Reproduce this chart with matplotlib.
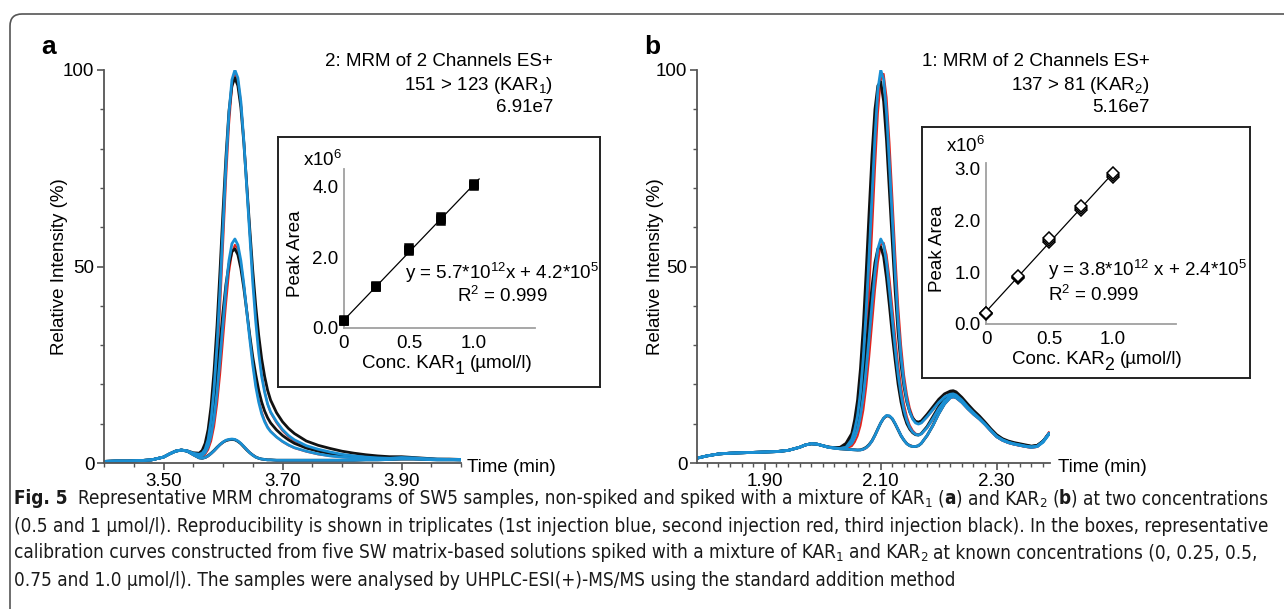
import os
import matplotlib
matplotlib.use("Agg")
import matplotlib.pyplot as plt
import numpy as np
from matplotlib import font_manager
from matplotlib.font_manager import FontProperties
from matplotlib.patches import FancyBboxPatch
from matplotlib.transforms import IdentityTransform
from matplotlib.ticker import MultipleLocator

# ---------------------------------------------------------------------------
# Data
# ---------------------------------------------------------------------------
# Panel a: KAR1 chromatograms (time in min, relative intensity in %)
ta = [3.40, 3.42, 3.44, 3.46, 3.48, 3.50,
      3.51, 3.52, 3.53, 3.54, 3.55, 3.56,
      3.565, 3.57, 3.575, 3.58, 3.585, 3.59, 3.595, 3.60, 3.605, 3.61, 3.615, 3.62,
      3.625, 3.63, 3.635, 3.64, 3.645, 3.65, 3.655, 3.66, 3.665, 3.67, 3.675, 3.68,
      3.69, 3.70, 3.71, 3.72,
      3.74, 3.76, 3.78, 3.80, 3.82, 3.84, 3.86, 3.88, 3.90, 3.92, 3.94, 3.96, 3.98, 4.00]

a0_blue = [0.4, 0.5, 0.5, 0.6, 0.8, 1.5,
           2.3, 3.0, 3.3, 3.0, 2.1, 1.3,
           1.2, 1.4, 1.8, 2.4, 3.1, 3.9, 4.7, 5.3, 5.8, 6.0, 6.1, 6.0,
           5.6, 5.0, 4.2, 3.4, 2.6, 2.0, 1.5, 1.2, 1.0, 0.9, 0.8, 0.8,
           0.7, 0.7, 0.7, 0.7,
           0.7, 0.7, 0.7, 0.7, 0.7, 0.8, 0.8, 0.9, 1.0, 1.0, 0.9, 0.8, 0.8, 0.8]
a0_red = [0.4, 0.5, 0.5, 0.6, 0.8, 1.5,
          2.3, 3.0, 3.3, 3.0, 2.1, 1.3,
          1.2, 1.3, 1.7, 2.3, 3.0, 3.8, 4.6, 5.2, 5.7, 5.9, 6.0, 5.9,
          5.6, 5.0, 4.3, 3.5, 2.7, 2.1, 1.6, 1.2, 1.0, 0.9, 0.8, 0.8,
          0.7, 0.7, 0.7, 0.7,
          0.7, 0.7, 0.7, 0.7, 0.7, 0.8, 0.8, 0.9, 1.0, 1.0, 0.9, 0.8, 0.8, 0.8]
a0_black = [0.4, 0.5, 0.5, 0.6, 0.8, 1.5,
            2.3, 3.0, 3.3, 3.0, 2.1, 1.3,
            1.2, 1.4, 1.9, 2.5, 3.2, 4.0, 4.7, 5.3, 5.7, 5.9, 6.0, 5.9,
            5.5, 4.9, 4.1, 3.3, 2.6, 2.0, 1.5, 1.2, 1.0, 0.9, 0.8, 0.8,
            0.7, 0.7, 0.7, 0.7,
            0.7, 0.7, 0.7, 0.7, 0.7, 0.8, 0.8, 0.9, 1.0, 1.0, 0.9, 0.8, 0.8, 0.8]

a5_blue = [0.4, 0.5, 0.5, 0.6, 0.8, 1.5,
           2.3, 3.0, 3.3, 3.0, 2.2, 1.7,
           1.9, 2.6, 4.2, 7.0, 11.5, 18, 26.5, 35.5, 44.5, 51.5, 55.8, 57,
           55.5, 51.5, 45.5, 38.5, 31.5, 25, 19.5, 15.5, 12.5, 10.5, 9.0, 8.0,
           6.6, 5.5, 4.6, 3.9,
           3.0, 2.3, 1.8, 1.5, 1.3, 1.1, 1.0, 1.0, 1.2, 1.1, 1.0, 0.9, 0.9, 0.8]
a5_red = [0.4, 0.5, 0.5, 0.6, 0.8, 1.5,
          2.3, 3.0, 3.3, 3.0, 2.2, 1.6,
          1.7, 2.2, 3.4, 5.6, 9.3, 15, 22.5, 31.5, 40.5, 48.5, 53.5, 55.5,
          54.5, 51, 45.5, 39, 32, 25.5, 20, 16, 13, 10.8, 9.2, 8.1,
          6.6, 5.4, 4.5, 3.8,
          2.9, 2.2, 1.8, 1.5, 1.3, 1.1, 1.0, 1.0, 1.2, 1.1, 1.0, 0.9, 0.9, 0.8]
a5_black = [0.4, 0.5, 0.5, 0.6, 0.8, 1.5,
            2.3, 3.0, 3.3, 3.0, 2.3, 2.0,
            2.6, 3.8, 6.2, 10, 15.5, 22.5, 30.5, 38.5, 45.5, 50.5, 53.8, 54.5,
            53, 49.5, 44.5, 38.5, 32.5, 27, 22.5, 18.5, 15.5, 13.2, 11.5, 10.2,
            8.4, 7.0, 5.9, 5.0,
            3.8, 3.0, 2.4, 2.0, 1.7, 1.5, 1.3, 1.2, 1.3, 1.2, 1.0, 0.9, 0.9, 0.8]

a10_blue = [0.4, 0.5, 0.5, 0.6, 0.8, 1.5,
            2.3, 3.0, 3.3, 3.1, 2.5, 2.2,
            2.5, 3.5, 6, 11, 19, 30, 44, 60, 76, 89, 97.5, 100,
            98, 92, 82, 70, 58, 46, 36, 28, 22, 18, 15, 13,
            10.5, 8.5, 7.0, 5.9,
            4.4, 3.5, 2.8, 2.2, 1.8, 1.5, 1.3, 1.2, 1.4, 1.3, 1.1, 1.0, 0.9, 0.9]
a10_red = [0.4, 0.5, 0.5, 0.6, 0.8, 1.5,
           2.3, 3.0, 3.3, 3.0, 2.4, 2.0,
           2.2, 3.0, 4.8, 9, 16, 26, 39.5, 55.5, 72, 86, 95.5, 99,
           97.5, 92, 82.5, 71, 59, 47, 37, 29, 22.5, 18.2, 15, 12.8,
           10.2, 8.2, 6.7, 5.6,
           4.1, 3.3, 2.6, 2.1, 1.7, 1.4, 1.3, 1.2, 1.4, 1.3, 1.1, 1.0, 0.9, 0.9]
a10_black = [0.4, 0.5, 0.5, 0.6, 0.8, 1.5,
             2.3, 3.0, 3.3, 3.1, 2.6, 2.5,
             3.2, 5, 8.5, 14.5, 23.5, 35, 49, 64, 78, 89.5, 96, 98,
             96, 90.5, 81.5, 70.5, 59.5, 49, 40, 32.5, 26.5, 22, 18.5, 16,
             12.8, 10.5, 8.8, 7.5,
             5.6, 4.5, 3.7, 3.0, 2.5, 2.1, 1.8, 1.6, 1.6, 1.4, 1.2, 1.0, 1.0, 0.9]

# Panel b: KAR2 chromatograms
tb = [1.785, 1.80, 1.82, 1.84, 1.86, 1.88, 1.90, 1.92, 1.94,
      1.96, 1.97, 1.98, 1.99, 2.00, 2.01, 2.02, 2.03, 2.04,
      2.05, 2.055, 2.06, 2.065, 2.07, 2.075, 2.08, 2.085, 2.09, 2.095, 2.10, 2.105,
      2.11, 2.115, 2.12, 2.125, 2.13, 2.135, 2.14, 2.145, 2.15, 2.155, 2.16, 2.165, 2.17,
      2.18, 2.19, 2.20, 2.21, 2.22, 2.225, 2.23, 2.24, 2.25, 2.26,
      2.27, 2.28, 2.29, 2.30, 2.31, 2.32, 2.33, 2.34, 2.35, 2.36, 2.37, 2.38, 2.39]

b0_blue = [1.3, 1.8, 2.3, 2.5, 2.6, 2.7, 2.8, 2.9, 3.2,
           4.0, 4.6, 4.9, 4.8, 4.4, 4.0, 3.8, 3.6, 3.5,
           3.4, 3.35, 3.3, 3.3, 3.5, 3.9, 4.6, 5.6, 7.0, 8.6, 10.2, 11.4,
           12.1, 12.0, 11.3, 10.0, 8.5, 7.0, 5.8, 4.9, 4.4, 4.2, 4.2, 4.4, 5.0,
           7.0, 9.5, 12.5, 15.0, 16.6, 16.8, 16.6, 15.4, 13.8, 12.4,
           11.2, 9.8, 8.2, 6.7, 5.8, 5.2, 4.8, 4.5, 4.2, 4.0, 4.2, 5.3, 7.3]
b0_red = [1.3, 1.8, 2.3, 2.5, 2.6, 2.7, 2.8, 2.9, 3.2,
          4.0, 4.5, 4.8, 4.8, 4.4, 4.0, 3.8, 3.6, 3.5,
          3.4, 3.35, 3.3, 3.3, 3.4, 3.8, 4.5, 5.5, 6.9, 8.5, 10.1, 11.3,
          12.0, 11.9, 11.3, 10.0, 8.6, 7.1, 5.9, 5.0, 4.5, 4.3, 4.2, 4.4, 5.0,
          6.9, 9.4, 12.4, 14.9, 16.5, 16.7, 16.5, 15.3, 13.7, 12.3,
          11.1, 9.7, 8.1, 6.6, 5.7, 5.1, 4.7, 4.4, 4.1, 3.9, 4.1, 5.4, 7.6]
b0_black = [1.3, 1.8, 2.3, 2.5, 2.6, 2.7, 2.8, 2.9, 3.2,
            4.0, 4.6, 4.9, 4.8, 4.4, 4.0, 3.8, 3.6, 3.5,
            3.4, 3.35, 3.3, 3.35, 3.6, 4.0, 4.7, 5.7, 7.1, 8.7, 10.2, 11.4,
            12.0, 11.9, 11.2, 9.9, 8.4, 6.9, 5.8, 4.9, 4.4, 4.2, 4.2, 4.4, 5.0,
            7.0, 9.6, 12.6, 15.1, 16.8, 17.0, 16.8, 15.6, 14.0, 12.6,
            11.4, 10.0, 8.4, 6.9, 6.0, 5.4, 5.0, 4.7, 4.4, 4.2, 4.4, 5.5, 7.4]

b5_blue = [1.3, 1.8, 2.3, 2.5, 2.6, 2.7, 2.8, 2.9, 3.2,
           4.0, 4.6, 4.9, 4.8, 4.4, 4.0, 3.8, 3.7, 3.9,
           5.0, 6.5, 8.5, 12, 17, 24, 32, 40.5, 48.5, 54.5, 57, 55.5,
           51, 44, 36.5, 29, 22.5, 17.5, 13.5, 10.8, 9.0, 7.9, 7.3, 7.1, 7.4,
           9.0, 11.3, 13.8, 15.8, 17.0, 17.1, 16.9, 15.6, 14.0, 12.6,
           11.3, 9.8, 8.2, 6.7, 5.8, 5.2, 4.8, 4.5, 4.2, 4.0, 4.2, 5.3, 7.3]
b5_red = [1.3, 1.8, 2.3, 2.5, 2.6, 2.7, 2.8, 2.9, 3.2,
          4.0, 4.6, 4.9, 4.8, 4.4, 4.0, 3.8, 3.6, 3.7,
          4.3, 5.3, 6.9, 9.5, 13.5, 19.5, 27, 35.5, 44, 51, 55.5, 56,
          53, 47, 39.5, 32, 25, 19.5, 15, 11.8, 9.6, 8.3, 7.5, 7.2, 7.4,
          8.9, 11.1, 13.6, 15.6, 16.9, 17.0, 16.8, 15.6, 14.0, 12.5,
          11.2, 9.7, 8.1, 6.6, 5.7, 5.1, 4.7, 4.4, 4.1, 3.9, 4.1, 5.4, 7.6]
b5_black = [1.3, 1.8, 2.3, 2.5, 2.6, 2.7, 2.8, 2.9, 3.2,
            4.0, 4.6, 4.9, 4.8, 4.4, 4.0, 3.9, 3.9, 4.5,
            6.2, 8.5, 11.5, 16, 22, 29.5, 37.5, 45, 51, 54.5, 55, 52.5,
            47, 40, 32.5, 26, 20, 15.5, 12.2, 10, 8.6, 7.7, 7.2, 7.1, 7.5,
            9.3, 11.8, 14.3, 16.4, 17.7, 17.9, 17.6, 16.2, 14.5, 13.0,
            11.6, 10.1, 8.5, 7.0, 6.0, 5.4, 5.0, 4.7, 4.4, 4.2, 4.4, 5.5, 7.4]

b10_blue = [1.3, 1.8, 2.3, 2.5, 2.6, 2.7, 2.8, 2.9, 3.2,
            4.0, 4.6, 4.9, 4.8, 4.4, 4.0, 3.8, 3.7, 4.0,
            6.0, 8.5, 12, 18, 27, 39, 53, 68, 83, 95, 100, 97.5,
            89, 76, 62, 48, 36, 27, 20.5, 16, 13, 11.2, 10.2, 9.9, 10.2,
            11.8, 13.6, 15.4, 16.8, 17.5, 17.6, 17.3, 16.0, 14.3, 12.8,
            11.4, 9.9, 8.3, 6.8, 5.9, 5.3, 4.9, 4.6, 4.3, 4.1, 4.3, 5.5, 7.5]
b10_red = [1.3, 1.8, 2.3, 2.5, 2.6, 2.7, 2.8, 2.9, 3.2,
           4.0, 4.6, 4.9, 4.8, 4.4, 4.0, 3.8, 3.6, 3.8,
           5.0, 6.8, 9.5, 14, 21, 31, 44, 59, 75, 89, 97.5, 99,
           93, 81.5, 67.5, 53, 40, 30, 22.5, 17.5, 14, 11.8, 10.5, 10.0, 10.2,
           11.7, 13.5, 15.3, 16.7, 17.4, 17.5, 17.2, 15.9, 14.2, 12.7,
           11.3, 9.8, 8.2, 6.7, 5.8, 5.2, 4.8, 4.5, 4.2, 4.0, 4.2, 5.6, 7.8]
b10_black = [1.3, 1.8, 2.3, 2.5, 2.6, 2.7, 2.8, 2.9, 3.2,
             4.0, 4.6, 4.9, 4.8, 4.4, 4.1, 3.9, 4.0, 5.0,
             7.5, 11, 16, 24, 35, 49, 64, 78.5, 90, 96, 97, 92,
             82, 69, 56, 43.5, 33, 25, 19.5, 15.5, 13, 11.4, 10.6, 10.4, 10.7,
             12.4, 14.3, 16.2, 17.6, 18.3, 18.4, 18.1, 16.7, 15.0, 13.4,
             12.0, 10.4, 8.7, 7.2, 6.2, 5.6, 5.2, 4.9, 4.6, 4.3, 4.5, 5.6, 7.4]

# Calibration insets (conc. in umol/l, peak area x10^6, triplicates)
conc = [0, 0.25, 0.5, 0.75, 1.0]
area_kar1 = [[0.20, 0.21, 0.22], [1.15, 1.17, 1.18], [2.18, 2.22, 2.26],
             [3.02, 3.08, 3.14], [4.02, 4.05, 4.08]]
area_kar2 = [[0.20, 0.21, 0.22], [0.89, 0.90, 0.92], [1.58, 1.62, 1.65],
             [2.19, 2.24, 2.28], [2.84, 2.87, 2.90]]

xticks_a = [3.50, 3.70, 3.90]
xticks_b = [1.90, 2.10, 2.30]

# ---------------------------------------------------------------------------
W, H = 1284, 609
FONT = "Liberation Sans"
FS = 13.5
BLUE, RED, BLACK, AXC = "#1a8fd3", "#e3231c", "#111111", "#555555"

plt.rcParams.update({
    "font.family": FONT,
    "font.size": FS,
    "mathtext.fontset": "custom",
    "mathtext.rm": FONT,
    "mathtext.it": FONT + ":italic",
    "mathtext.bf": FONT + ":bold",
})

fig = plt.figure(figsize=(W / 100, H / 100), dpi=100)
fig.patch.set_facecolor("white")
renderer = fig.canvas.get_renderer()


def fx(x):
    return x / W


def fy(y):
    return 1 - y / H


def px_axes(l, t, r, b):
    ax = fig.add_axes([l / W, 1 - b / H, (r - l) / W, (b - t) / H])
    ax.set_facecolor("none")
    return ax


# text made of pieces (normal / bold / subscript), positioned in pixels
def draw_pieces(x0, y, pieces, size, fonts, sub_scale=0.7, sub_dy=4.5,
                keep=True, color="black"):
    def props(style, sz):
        fp = fonts["bold"] if style == "b" else fonts["regular"]
        fp = fp.copy()
        fp.set_size(sz)
        return fp

    def width(s, style, sz):
        t = fig.text(0, 0, s, fontproperties=props(style, sz))
        w = t.get_window_extent(renderer=renderer).width
        t.remove()
        return w

    sp = width("a a", "n", size) - width("aa", "n", size)
    x = x0
    for s, style in pieces:
        lead = len(s) - len(s.lstrip(" "))
        trail = len(s) - len(s.rstrip(" "))
        core = s.strip(" ")
        x += lead * sp
        if core:
            if style == "sub":
                t = fig.text(fx(x), fy(y + sub_dy), core, ha="left", va="center",
                             color=color, fontproperties=props("n", size * sub_scale))
            else:
                t = fig.text(fx(x), fy(y), core, ha="left", va="center",
                             color=color, fontproperties=props(style, size))
            x += t.get_window_extent(renderer=renderer).width
            if not keep:
                t.remove()
        x += trail * sp
    return x - x0


MAIN_FONTS = {"regular": FontProperties(family=FONT),
              "bold": FontProperties(family=FONT, weight="bold")}


def chrom_panel(box, t, traces, xlim, xticks, xminor, letter, letter_x,
                header, ylabel_x, time_x):
    ax = px_axes(*box)
    styles = {"red": (RED, 1.5), "black": (BLACK, 2.0), "blue": (BLUE, 2.0)}
    for col in ("red", "black", "blue"):
        c, lw = styles[col]
        for tr in traces[col]:
            ax.plot(t, tr, color=c, lw=lw, solid_joinstyle="round")
    ax.set_xlim(*xlim)
    ax.set_ylim(0, 100)
    for s in ("top", "right"):
        ax.spines[s].set_visible(False)
    for s in ("left", "bottom"):
        ax.spines[s].set_color(AXC)
        ax.spines[s].set_linewidth(1.3)
    ax.set_xticks(xticks, labels=[f"{v:.2f}" for v in xticks])
    ax.xaxis.set_minor_locator(MultipleLocator(xminor))
    ax.set_yticks([0, 50, 100], labels=["0", "50", "100"])
    ax.yaxis.set_minor_locator(MultipleLocator(10))
    ax.tick_params(which="major", length=5, width=1.2, color=AXC,
                   labelsize=FS, pad=2)
    ax.tick_params(which="minor", length=3, width=1.0, color=AXC)

    fig.text(fx(letter_x), fy(47), letter, fontsize=19, fontweight="bold",
             ha="center", va="center")
    right = header[0]
    for yy, line in zip((62, 85, 108), header[1:]):
        fig.text(fx(right), fy(yy), line, ha="right", va="center", fontsize=FS)
    fig.text(fx(ylabel_x), fy(267), "Relative Intensity (%)", rotation=90,
             ha="center", va="center", fontsize=FS)
    fig.text(fx(time_x), fy(468), "Time (min)", ha="left", va="center",
             fontsize=FS)
    return ax


def calib_inset(box, inner, areas, marker, mfc, ms, ylim, yticks, xlim,
                line_end, kar, x10_xy, plab_x, xlab_xy, eq, eq_xy, r2_xy):
    bx = px_axes(*box)
    bx.set_facecolor("white")
    bx.set_xticks([])
    bx.set_yticks([])
    for s in bx.spines.values():
        s.set_color("#222222")
        s.set_linewidth(1.4)

    ax = px_axes(*inner)
    xs = np.repeat(conc, 3)
    ys = np.ravel(areas)
    coef = np.polyfit(xs, ys, 1)
    lx = np.array([0.0, line_end])
    ax.plot(lx, np.polyval(coef, lx), color="black", lw=0.9, zorder=2)
    ax.plot(xs, ys, ls="none", marker=marker, ms=ms, mfc=mfc, mec="black",
            mew=1.1, zorder=3, clip_on=False)
    ax.set_xlim(*xlim)
    ax.set_ylim(*ylim)
    for s in ("top", "right"):
        ax.spines[s].set_visible(False)
    for s in ("left", "bottom"):
        ax.spines[s].set_color("#a0a0a0")
        ax.spines[s].set_linewidth(1.3)
    ax.set_xticks([0, 0.5, 1.0], labels=["0", "0.5", "1.0"])
    ax.set_yticks(yticks, labels=[f"{v:.1f}" for v in yticks])
    ax.tick_params(axis="both", length=0, labelsize=FS)
    ax.tick_params(axis="y", pad=4)
    ax.tick_params(axis="x", pad=5)

    fig.text(fx(x10_xy[0]), fy(x10_xy[1]), r"x10$^6$", ha="center",
             va="center", fontsize=FS)
    fig.text(fx(plab_x), fy((inner[1] + inner[3]) / 2 + 5), "Peak Area",
             rotation=90, ha="center", va="center", fontsize=FS)
    # axis title with a large, dropped subscript as in the original
    pieces = [("Conc. KAR", "n"), (kar, "sub"), (" (\u00b5mol/l)", "n")]
    w = draw_pieces(0, 0, pieces, FS, MAIN_FONTS, 0.95, 6, keep=False)
    draw_pieces(xlab_xy[0] - w / 2, xlab_xy[1], pieces, FS, MAIN_FONTS, 0.95, 6)
    fig.text(fx(eq_xy[0]), fy(eq_xy[1]), eq, ha="left", va="center",
             fontsize=FS)
    fig.text(fx(r2_xy[0]), fy(r2_xy[1]), r"R$^2$ = 0.999", ha="left",
             va="center", fontsize=FS)


# ---- panel a ----
chrom_panel((104, 70, 461, 463), ta,
            {"red": [a0_red, a5_red, a10_red],
             "black": [a0_black, a5_black, a10_black],
             "blue": [a0_blue, a5_blue, a10_blue]},
            (3.40, 4.00), xticks_a, 0.05, "a", 49,
            (553, "2: MRM of 2 Channels ES+", "151 > 123 (KAR$_1$)", "6.91e7"),
            60, 467)
calib_inset((278, 137, 600, 387), (344, 169, 535, 328), area_kar1,
            "s", "black", 6, (0, 4.5), [0, 2, 4], (0, 1.47), 1.04, "1",
            (323, 160), 295, (447, 364),
            r"y = 5.7*10$^{12}$x + 4.2*10$^5$", (405, 273), (457, 296))

# ---- panel b ----
chrom_panel((697, 70, 1050, 463), tb,
            {"red": [b0_red, b5_red, b10_red],
             "black": [b0_black, b5_black, b10_black],
             "blue": [b0_blue, b5_blue, b10_blue]},
            (1.783, 2.392), xticks_b, 0.02, "b", 652,
            (1150, "1: MRM of 2 Channels ES+", "137 > 81 (KAR$_2$)", "5.16e7"),
            655, 1058)
calib_inset((922, 127, 1250, 378), (986, 163, 1176, 324), area_kar2,
            "D", "white", 6.5, (0, 3.1), [0, 1, 2, 3], (0, 1.5), 1.02, "2",
            (966, 146), 938, (1097, 359),
            r"y = 3.8*10$^{12}$ x + 2.4*10$^5$", (1048, 270), (1048, 295))

# ---- rounded outer frame ----
frame = FancyBboxPatch((10, -30), 1320, H - 14 + 30,
                       boxstyle="round,pad=0,rounding_size=12",
                       transform=IdentityTransform(), fill=False,
                       ec="#555555", lw=1.2)
fig.patches.append(frame)
frame.set_figure(fig)

# ---- caption (condensed face if one is installed) ----
def find_condensed():
    reg, bold = None, None
    order = ["liberationsansnarrow", "dejavusanscondensed", "opensans_condensed",
             "opensans-condensed", "robotocondensed", "notosans-condensed",
             "notosanscondensed"]
    files = [f.fname for f in font_manager.fontManager.ttflist]
    for key in order:
        for fn in files:
            b = os.path.basename(fn).lower().replace(" ", "")
            if not b.startswith(key):
                continue
            if "italic" in b or "oblique" in b:
                continue
            tail = b[len(key):]
            if tail.startswith("-bold.") or tail.startswith("bold.") or tail == "-bold.ttf":
                bold = bold or fn
            elif tail.startswith(".") or tail.startswith("-regular."):
                reg = reg or fn
        if reg:
            return reg, bold
        reg, bold = None, None
    return None, None


creg, cbold = find_condensed()
if creg:
    CAP_FONTS = {"regular": FontProperties(fname=creg),
                 "bold": FontProperties(fname=cbold) if cbold
                 else FontProperties(fname=creg, weight="bold")}
else:
    CAP_FONTS = MAIN_FONTS

cap_lines = [
    [("Fig. 5", "b"), ("  Representative MRM chromatograms of SW5 samples, non-spiked and spiked with a mixture of KAR", "n"),
     ("1", "sub"), (" (", "n"), ("a", "b"), (") and KAR", "n"), ("2", "sub"), (" (", "n"), ("b", "b"),
     (") at two concentrations", "n")],
    [("(0.5 and 1 \u00b5mol/l). Reproducibility is shown in triplicates (1st injection blue, second injection red, "
      "third injection black). In the boxes, representative", "n")],
    [("calibration curves constructed from five SW matrix-based solutions spiked with a mixture of KAR", "n"),
     ("1", "sub"), (" and KAR", "n"), ("2", "sub"), (" at known concentrations (0, 0.25, 0.5,", "n")],
    [("0.75 and 1.0 \u00b5mol/l). The samples were analysed by UHPLC-ESI(+)-MS/MS using the standard addition method", "n")],
]
cap_y = [499, 526, 553, 580]

w0 = draw_pieces(14, cap_y[0], cap_lines[0], 12, CAP_FONTS, keep=False)
cap_size = 12 * (1268 - 14) / w0
for yy, line in zip(cap_y, cap_lines):
    draw_pieces(14, yy, line, cap_size, CAP_FONTS, color="#1a1a1a")

fig.savefig("out.png", dpi=100)
